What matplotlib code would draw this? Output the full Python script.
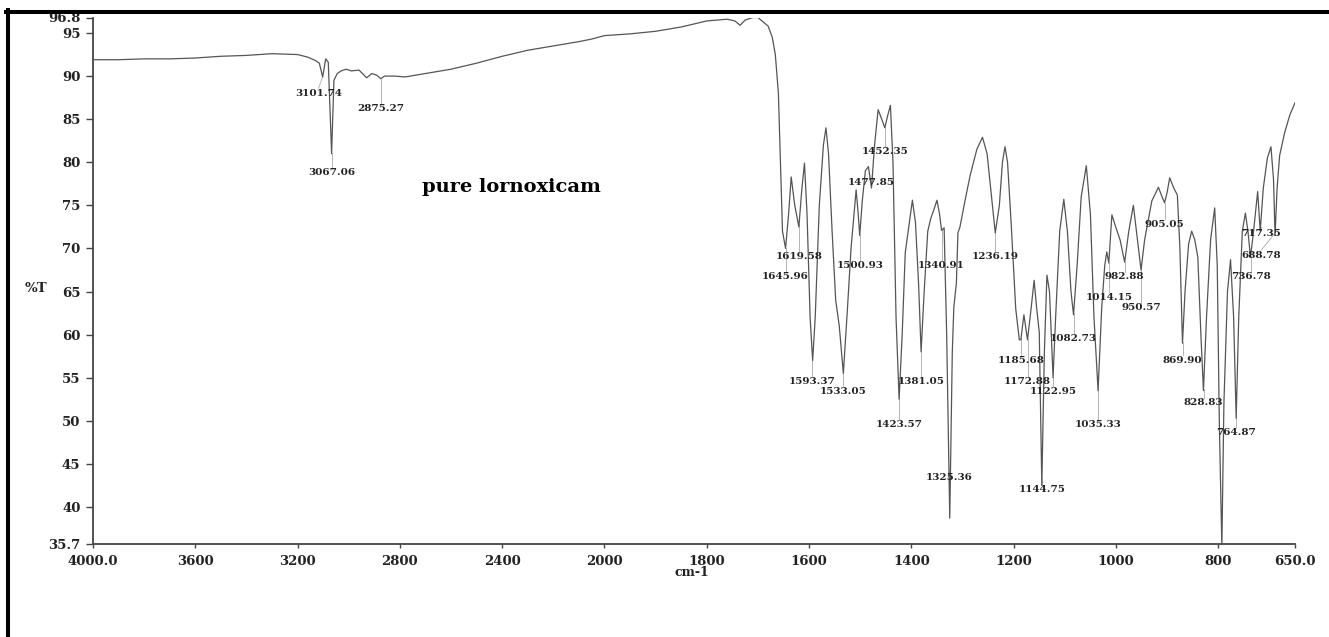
#!/usr/bin/env python3
"""
FTIR spectrum of pure lornoxicam (%T against wavenumber, cm-1).
"""

import numpy as np
import matplotlib
matplotlib.use('Agg')
import matplotlib.pyplot as plt
from matplotlib.lines import Line2D

# Spectrum trace (cm-1, %T)
wavenumber = [
    4000, 3900, 3800, 3700, 3600, 3500, 3400, 3300, 3200, 3160,
    3130, 3115, 3102, 3090, 3080, 3067, 3058, 3045, 3030, 3010,
    2990, 2960, 2930, 2910, 2890, 2875, 2860, 2820, 2780, 2700,
    2600, 2500, 2400, 2300, 2200, 2100, 2050, 2000, 1950, 1900,
    1850, 1800, 1760, 1745, 1735, 1725, 1710, 1700, 1690, 1680,
    1672, 1666, 1660, 1656, 1652, 1646, 1640, 1635, 1628, 1620,
    1614, 1609, 1604, 1598, 1593, 1588, 1580, 1572, 1567, 1562,
    1555, 1548, 1541, 1533, 1525, 1518, 1512, 1508, 1504, 1501,
    1496, 1490, 1484, 1478, 1472, 1465, 1458, 1452, 1446, 1441,
    1436, 1430, 1424, 1418, 1412, 1404, 1398, 1392, 1386, 1381,
    1375, 1368, 1362, 1356, 1350, 1345, 1341, 1336, 1331, 1325,
    1320, 1317, 1312, 1309, 1305, 1295, 1285, 1272, 1261, 1252,
    1245, 1236, 1228, 1222, 1217, 1212, 1205, 1196, 1189, 1186,
    1180, 1173, 1166, 1160, 1155, 1150, 1145, 1140, 1135, 1130,
    1123, 1118, 1110, 1102, 1095, 1088, 1083, 1076, 1068, 1058,
    1050, 1043, 1035, 1028, 1022, 1018, 1014, 1008, 1000, 992,
    983, 975, 966, 958, 951, 944, 930, 917, 910, 905,
    900, 895, 887, 880, 875, 870, 865, 858, 852, 846,
    840, 834, 829, 823, 815, 807, 802, 798, 793, 789,
    782, 776, 770, 765, 760, 753, 747, 742, 737, 731,
    723, 718, 712, 704, 697, 692, 689, 685, 680, 670,
    660, 650,
]
transmittance = [
    91.9, 91.9, 92.0, 92.0, 92.1, 92.3, 92.4, 92.6, 92.5, 92.2,
    91.8, 91.5, 89.9, 92.0, 91.6, 81.0, 89.5, 90.3, 90.6, 90.8,
    90.6, 90.7, 89.8, 90.3, 90.1, 89.7, 90.0, 90.0, 89.9, 90.3,
    90.8, 91.5, 92.3, 93.0, 93.5, 94.0, 94.3, 94.7, 94.9, 95.2,
    95.7, 96.4, 96.6, 96.4, 95.9, 96.5, 96.8, 96.8, 96.3, 95.8,
    94.5, 92.5, 88.0, 80.0, 72.0, 70.0, 74.0, 78.3, 75.0, 72.5,
    77.0, 79.9, 74.0, 62.0, 57.0, 62.0, 75.0, 82.0, 84.0, 81.0,
    72.0, 64.0, 61.0, 55.5, 63.0, 70.0, 74.0, 76.8, 74.0, 71.5,
    75.5, 79.0, 79.5, 77.0, 82.0, 86.1, 85.0, 84.0, 85.5, 86.6,
    80.0, 62.0, 52.5, 60.0, 69.5, 73.0, 75.6, 73.0, 66.0, 58.0,
    65.0, 72.0, 73.5, 74.5, 75.6, 74.0, 72.1, 72.4, 60.0, 38.7,
    58.0, 63.2, 66.0, 71.8, 72.5, 75.6, 78.5, 81.5, 82.9, 81.0,
    77.0, 71.8, 75.0, 80.0, 81.8, 80.0, 73.0, 63.0, 59.4, 59.4,
    62.3, 59.4, 63.0, 66.3, 63.0, 60.3, 42.5, 58.0, 66.9, 65.0,
    55.0, 62.0, 72.0, 75.7, 72.0, 65.0, 62.3, 68.0, 76.0, 79.6,
    74.0, 62.0, 53.5, 63.0, 68.0, 69.6, 68.3, 73.9, 72.4, 71.0,
    68.4, 72.0, 75.0, 71.0, 67.5, 71.0, 75.5, 77.1, 76.0, 75.3,
    76.5, 78.2, 77.0, 76.2, 70.0, 59.0, 65.0, 70.5, 72.0, 71.0,
    69.0, 60.0, 53.5, 62.0, 71.0, 74.7, 68.0, 50.0, 35.3, 52.0,
    65.0, 68.7, 62.0, 50.3, 62.0, 72.0, 74.1, 72.0, 69.0, 72.0,
    76.6, 72.0, 77.0, 80.5, 81.8, 78.0, 71.5, 77.0, 80.8, 83.5,
    85.5, 86.9,
]

# Labelled bands: text, band position, %T level of the label centre
peak_text = [
    '3101.74', '3067.06', '2875.27', '1645.96', '1619.58', '1593.37',
    '1533.05', '1500.93', '1477.85', '1452.35', '1423.57', '1381.05',
    '1340.91', '1325.36', '1236.19', '1185.68', '1172.88', '1144.75',
    '1122.95', '1082.73', '1035.33', '1014.15', '982.88', '950.57',
    '905.05', '869.90', '828.83', '764.87', '736.78', '717.35', '688.78',
]
peak_wn = [float(t) for t in peak_text]
label_level = [
    88.0, 78.8, 86.2, 66.7, 69.1, 54.5,
    53.4, 68.0, 77.6, 81.2, 49.6, 54.5,
    68.0, 43.4, 69.1, 57.0, 54.5, 42.0,
    53.4, 59.5, 49.6, 64.3, 66.7, 63.1,
    72.8, 57.0, 52.1, 48.6, 66.7, 71.7, 69.2,
]

y_ticks = [35.7, 40, 45, 50, 55, 60, 65, 70, 75, 80, 85, 90, 95, 96.8]
y_tick_labels = ['35.7', '40', '45', '50', '55', '60', '65', '70', '75',
                 '80', '85', '90', '95', '96.8']
x_ticks = [4000, 3600, 3200, 2800, 2400, 2000, 1800, 1600, 1400, 1200,
           1000, 800, 650]
x_tick_labels = ['4000.0', '3600', '3200', '2800', '2400', '2000', '1800',
                 '1600', '1400', '1200', '1000', '800', '650.0']


def forward(wn):
    """Instrument axis: above 2000 cm-1 the scale is compressed by half."""
    wn = np.asarray(wn, dtype=float)
    return np.where(wn >= 2000, 2000 + (wn - 2000) / 2, wn)


def inverse(u):
    u = np.asarray(u, dtype=float)
    return np.where(u >= 2000, 2000 + (u - 2000) * 2, u)


def main():
    plt.rcParams['font.family'] = ['DejaVu Serif']
    W, H = 1329, 637
    fig = plt.figure(figsize=(W / 100, H / 100), dpi=100)
    fig.patch.set_facecolor('white')

    # axes box in pixels: x 93..1295, y 17.5..544
    ax = fig.add_axes([93 / W, 1 - 544 / H, (1295 - 93) / W, (544 - 17.5) / H])
    ax.set_xscale('function', functions=(forward, inverse))

    ax.plot(wavenumber, transmittance, color='#555555', lw=0.9, zorder=3)

    # leader lines + band labels
    wn_asc = np.array(wavenumber[::-1], dtype=float)
    t_asc = np.array(transmittance[::-1], dtype=float)
    for text, wn, lvl in zip(peak_text, peak_wn, label_level):
        t_dip = np.interp(wn, wn_asc, t_asc)
        tx = wn
        if text == '688.78':
            tx = 716.0
        elif text == '3101.74':
            tx = 3118.0
        if t_dip > lvl + 0.6:
            ax.plot([wn, tx], [t_dip, lvl + 0.6], color='#aaaaaa', lw=0.6, zorder=2)
        ax.text(tx, lvl, text, ha='center', va='center', fontsize=7.5,
                fontweight='bold', color='#222222', zorder=4)

    ax.set_xlim(4000, 650)
    ax.set_ylim(35.7, 96.8)
    ax.set_xticks(x_ticks)
    ax.set_xticklabels(x_tick_labels)
    ax.set_yticks(y_ticks)
    ax.set_yticklabels(y_tick_labels)
    ax.minorticks_off()

    for side in ['top', 'right']:
        ax.spines[side].set_visible(False)
    for side in ['left', 'bottom']:
        ax.spines[side].set_linewidth(1.3)
        ax.spines[side].set_color('#444444')

    ax.tick_params(axis='both', direction='out', width=1, color='#444444',
                   labelsize=9.5, labelcolor='#222222')
    ax.tick_params(axis='x', length=3, pad=5)
    ax.tick_params(axis='y', length=5, pad=4)
    for lab in ax.get_xticklabels() + ax.get_yticklabels():
        lab.set_fontweight('bold')

    fig.text(36 / W, 1 - 288 / H, '%T', ha='center', va='center',
             fontsize=9.5, fontweight='bold', color='#222222')
    fig.text(692 / W, 1 - 572 / H, 'cm-1', ha='center', va='center',
             fontsize=9, fontweight='bold', color='#222222')
    fig.text(511 / W, 1 - 187 / H, 'pure lornoxicam', ha='center', va='center',
             fontsize=14, fontweight='bold', color='black')

    # frame of the original figure: left and top edges only
    fig.add_artist(Line2D([7.5 / W, 7.5 / W], [0, 1 - 10 / H], color='black',
                          lw=2.9, transform=fig.transFigure, zorder=10))
    fig.add_artist(Line2D([6 / W, 1], [1 - 11.5 / H, 1 - 11.5 / H], color='black',
                          lw=2.9, transform=fig.transFigure, zorder=10))

    fig.savefig('out.png', dpi=100, facecolor='white')


if __name__ == '__main__':
    main()
